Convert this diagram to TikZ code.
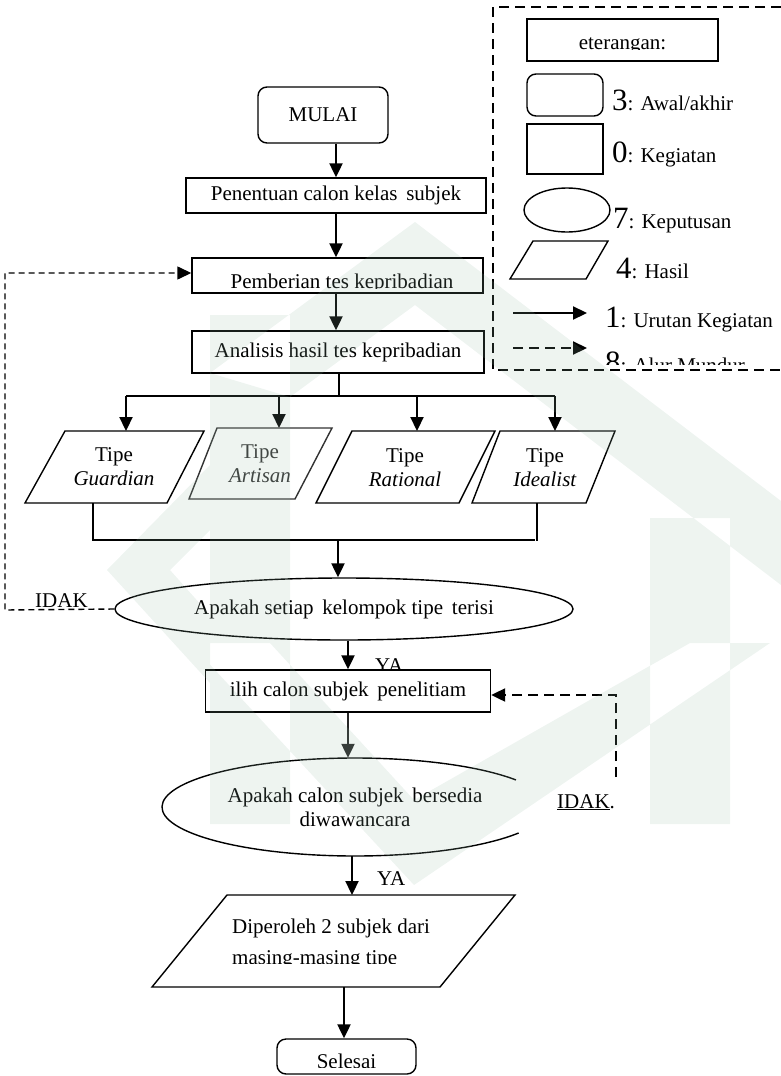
\documentclass[tikz,border=0pt]{standalone}
\usepackage{fontspec}
\setmainfont{Liberation Serif}
\usetikzlibrary{arrows.meta,shapes.geometric}
\definecolor{wm}{RGB}{148,184,163}
\definecolor{artc}{RGB}{50,50,50}
\newcommand\bigd[1]{{\fontsize{31}{31}\selectfont #1}}
\begin{document}
\begin{tikzpicture}[x=1pt,y=-1pt,
  font=\fontsize{21}{24}\selectfont,
  box/.style={draw, line width=1.4pt, inner sep=0pt},
  term/.style={box, rounded corners=9pt},
  thin/.style={line width=1.4pt},
  flow/.style={line width=2.2pt, -{Triangle[length=14pt,width=13pt]}},
  backL/.style={line width=1.4pt, dash pattern=on 6pt off 4pt, -{Triangle[length=14pt,width=13pt]}},
  backR/.style={line width=2.2pt, dash pattern=on 10pt off 6pt},
  legdash/.style={line width=1.5pt, dash pattern=on 10pt off 6pt},
  lbl/.style={inner sep=0pt, anchor=base west},
  ctr/.style={inner sep=0pt, anchor=base}
]
\useasboundingbox (0,0) rectangle (781,1076);
\clip (0,0) rectangle (781,1076);

% ---------- legend ----------
\draw[legdash] (493,7) rectangle (810,370);
\node[box, minimum width=191pt, minimum height=42pt] (ket) at (622.5,40) {};
\begin{scope}\clip (530,20) rectangle (715,49.5);
\node[ctr] (kett) at (622.5,49) {eterangan:};
\end{scope}
\node[term, minimum width=76pt, minimum height=42pt] (lterm) at (565,95) {};
\node[lbl] (l3) at (612,110) {\bigd{3}: Awal/akhir};
\node[box, minimum width=76pt, minimum height=50pt] (lproc) at (565,149) {};
\node[lbl] (l0) at (612,162) {\bigd{0}: Kegiatan};
\node[draw, thin, ellipse, minimum width=86pt, minimum height=44pt, inner sep=0pt] (ldec) at (567,210) {};
\node[lbl] (l7) at (613,228) {\bigd{7}: Keputusan};
\draw[thin] (533,241) -- (608,241) -- (586,279) -- (510,279) -- cycle;
\node[lbl] (l4) at (616,278) {\bigd{4}: Hasil};
\coordinate (la1) at (513,313); \coordinate (la2) at (587,313);
\draw[flow] (la1) -- (la2);
\node[lbl] (l1) at (605,327) {\bigd{1}: Urutan Kegiatan};
\coordinate (lb1) at (513,348); \coordinate (lb2) at (587,348);
\draw[backR, -{Triangle[length=14pt,width=13pt]}] (lb1) -- (lb2);
\begin{scope}\clip (600,340) rectangle (781,364);
\node[lbl] (l8) at (605,372) {\bigd{8}: Alur Mundur};
\end{scope}

% ---------- main flow ----------
\node[term, minimum width=130pt, minimum height=56pt] (mulai) at (323,115) {MULAI};
\node[box, minimum width=300pt, minimum height=35pt] (pen) at (336,195.5) {Penentuan calon kelas\, subjek};
\node[box, minimum width=291pt, minimum height=35pt] (pem) at (337.5,275.5) {};
\begin{scope}\clip (190,250) rectangle (490,288.5);
\node[ctr] (pemt) at (342,288) {Pemberian tes kepribadian};
\end{scope}
\node[box, minimum width=292pt, minimum height=42pt] (ana) at (338,352) {Analisis hasil tes kepribadian};

\draw[flow] (pen.north |- mulai.south) -- (pen.north);
\draw[flow] (pen.south) -- (pen.south |- pem.north);
\draw[flow] (pen.south |- pem.south) -- (pen.south |- ana.north);

% split
\coordinate (split) at (339,396);
\coordinate (hl) at (126,396);
\coordinate (hr) at (555,396);
\draw[line width=2.2pt] (ana.south -| split) -- (split);
\draw[line width=2.2pt] (hl) -- (hr);
\coordinate (gt) at (126,431);
\coordinate (at) at (279,428);
\coordinate (rt) at (417,431);
\coordinate (it) at (555,431);
\draw[flow] (hl) -- (gt);
\draw[flow] (split -| at) -- (at);
\draw[flow] (split -| rt) -- (rt);
\draw[flow] (hr) -- (it);

% type parallelograms
\draw[thin] (65,431) -- (204,431) -- (167,503) -- (25,503) -- cycle;
\node[align=center, inner sep=0pt] (gua) at (114,467) {Tipe\\\textit{Guardian}};
\draw[thin, artc] (217,428) -- (332,428) -- (295,499) -- (189,499) -- cycle;
\node[align=center, inner sep=0pt, text=artc] (art) at (260,464) {Tipe\\\textit{Artisan}};
\draw[thin] (352,431) -- (495,431) -- (459,503) -- (316,503) -- cycle;
\node[align=center, inner sep=0pt] (rat) at (405,468) {Tipe\\\textit{Rational}};
\draw[thin] (500,431) -- (615,431) -- (586,503) -- (472,503) -- cycle;
\node[align=center, inner sep=0pt] (ide) at (545,468) {Tipe\\\textit{Idealist}};

% join
\coordinate (jl) at (93,503);
\coordinate (jlb) at (93,540);
\coordinate (jrb) at (535,540);
\coordinate (jr) at (537,503);
\coordinate (jr2) at (537,541);
\coordinate (jm) at (338,540);
\draw[thin] (jl) -- (jlb) -- (jrb);
\draw[thin] (jr) -- (jr2);

\node[draw, thin, ellipse, minimum width=458pt, minimum height=62pt, inner sep=0pt] (e1) at (344,609) {Apakah setiap\, kelompok tipe\, terisi};
\draw[flow] (jm) -- (jm |- e1.north);

% left loop
\coordinate (lb) at (5,610);
\coordinate (lt) at (5,273);
\draw[backL] (e1.west) -- (lb) -- (lt) -- (lt -| pem.west);
\node[lbl] (idak1) at (35,607) {IDAK};

% pilih
\node[lbl] (ya1) at (375,672) {YA};
\node[box, fill=white, minimum width=285pt, minimum height=42pt] (pil) at (348,691) {ilih calon subjek\, penelitiam};
\draw[flow] (pil.north |- e1.south) -- (pil.north);

% ellipse 2 (open on the right)
\node[ellipse, minimum width=386pt, minimum height=98pt, inner sep=0pt, align=center] (e2) at (355,807) {Apakah calon subjek\, bersedia\\diwawancara};
\draw[thin] ([shift={(33.5:193pt and 49pt)}]e2.center) arc[start angle=33.5, end angle=328, x radius=193pt, y radius=49pt];
\draw[flow, black!85] (pil.south) -- (pil.south |- e2.north);

% right loop
\coordinate (rb) at (616,777);
\coordinate (rtp) at (616,695);
\draw[backR, -{Triangle[length=14pt,width=13pt]}] (rb) -- (rtp) -- (rtp -| pil.east);
\node[lbl] (idak2) at (557,808) {\underline{IDAK}.};

% diperoleh
\node[lbl] (ya2) at (377,885) {YA};
\coordinate (dtop) at (352,895);
\draw[flow] (e2.south -| dtop) -- (dtop);
\draw[thin] (227,895) -- (515,895) -- (440,987) -- (152,987) -- cycle;
\node[lbl] (dip1) at (232,933) {Diperoleh 2 subjek dari};
\begin{scope}\clip (150,940) rectangle (520,963);
\node[lbl] (dip2) at (232,964) {masing-masing tipe};
\end{scope}

% selesai
\node[term, minimum width=139pt, minimum height=35pt] (sel) at (346.5,1056.5) {};
\begin{scope}\clip (270,1040) rectangle (420,1067);
\node[ctr] (selt) at (346.5,1068) {Selesai};
\end{scope}
\coordinate (dbot) at (344,987);
\draw[flow] (dbot) -- (dbot |- sel.north);

% ---------- watermark overlay ----------
\fill[wm, fill opacity=0.16]
  (210,315) rectangle (290,824)
  (650,518) rectangle (730,824)
  (210,373) -- (415,222) -- (781,501) -- (781,585) -- (415,305) -- (290,397) -- cycle
  (107,570) -- (210,465) -- (210,530) -- (170,570) -- (210,615) -- (210,683) -- cycle
  (190,643) -- (270,643) -- (414,800) -- (690,643) -- (770,643) -- (414,885) -- cycle;
\end{tikzpicture}
\end{document}
